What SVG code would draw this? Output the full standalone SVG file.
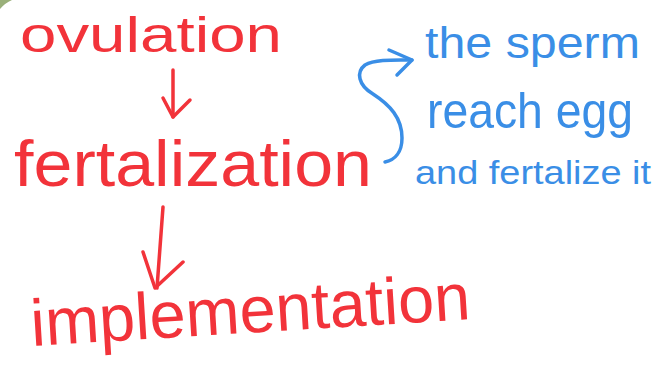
<svg xmlns="http://www.w3.org/2000/svg" width="654" height="375" viewBox="0 0 654 375">
<defs>
<style>
.red{fill:#f2333a;font-family:"Liberation Sans","DejaVu Sans",sans-serif;}
.blue{fill:#3a8ee6;font-family:"Liberation Sans","DejaVu Sans",sans-serif;}
.rl{fill:none;stroke:#f2333a;stroke-width:3.5;stroke-linecap:round;stroke-linejoin:round;}
.bl{fill:none;stroke:#3a8ee6;stroke-width:3.5;stroke-linecap:round;stroke-linejoin:round;}
</style>
</defs>
<rect width="654" height="375" fill="#ffffff"/>
<path d="M0,0 L12,0 Q5,3 0,9 Z" fill="#9ab07a"/>
<g id="ovulation"><text class="red" x="20" y="52" font-size="50" textLength="262" lengthAdjust="spacingAndGlyphs">ovulation</text></g>
<g id="fertalization"><text class="red" x="14" y="186" font-size="64" textLength="358" lengthAdjust="spacingAndGlyphs">fertalization</text></g>
<g id="implementation"><text class="red" x="32" y="346" font-size="66" textLength="440" lengthAdjust="spacingAndGlyphs" transform="rotate(-3.5 32 346)">implementation</text></g>
<g id="the-sperm"><text class="blue" x="425" y="58" font-size="44" textLength="215" lengthAdjust="spacingAndGlyphs">the sperm</text></g>
<g id="reach-egg"><text class="blue" x="427" y="128" font-size="50" textLength="206" lengthAdjust="spacingAndGlyphs">reach egg</text></g>
<g id="and-fertalize-it"><text class="blue" x="415" y="184" font-size="34" textLength="236" lengthAdjust="spacingAndGlyphs">and fertalize it</text></g>
<g id="connectors">
<path class="rl" d="M173,70 L173,117"/>
<path class="rl" d="M163,98 L173,117 L190,100"/>
<path class="rl" d="M163,207 L157,288"/>
<path class="rl" d="M143,252 L155,288 L183,262"/>
<path class="bl" d="M385,162 C395,160 402,152 402,138 C402,118 390,105 373,94 C358,85 356,72 365,65 C375,59 395,60 412,60"/>
<path class="bl" d="M389,50 L412,60 L397,75"/>
</g>
</svg>
